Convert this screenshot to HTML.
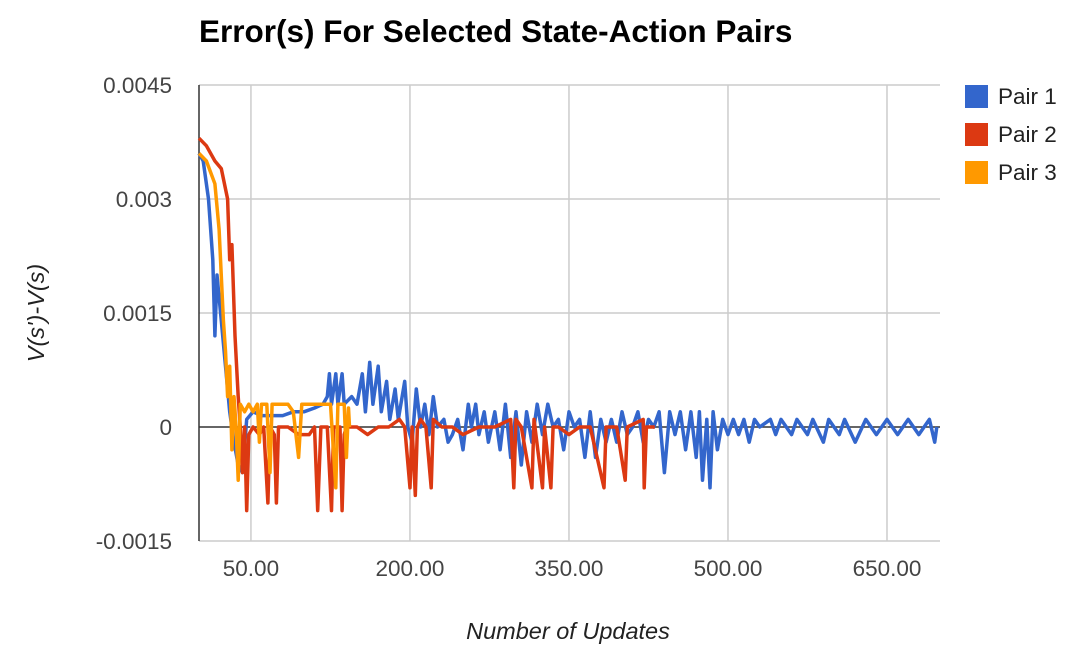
<!DOCTYPE html>
<html><head><meta charset="utf-8"><style>
body{margin:0;background:#fff;font-family:"Liberation Sans",sans-serif;}
svg{display:block}
</style></head><body>
<svg id="chart" width="1086" height="656" xmlns="http://www.w3.org/2000/svg">
<text x="199" y="42" font-size="31.5" font-weight="bold" fill="#000">Error(s) For Selected State-Action Pairs</text>
<text x="568" y="639" font-size="23.5" font-style="italic" fill="#222" text-anchor="middle">Number of Updates</text>
<text transform="translate(44,313) rotate(-90)" font-size="23.5" font-style="italic" fill="#222" text-anchor="middle">V(s')-V(s)</text>
<g id="grid"></g><g id="series"></g><g id="legend"></g>
</svg>
<script>
const yTicks=[45,30,15,0,-15];
const yTickLabels=["0.0045","0.003","0.0015","0","-0.0015"];
const xTicks=[50,200,350,500,650];
const xTickLabels=["50.00","200.00","350.00","500.00","650.00"];
const seriesNames=["Pair 1","Pair 2","Pair 3"];
const seriesColors=["#3366cc","#dc3912","#ff9900"];
// values in units of 1e-4
const blueX=[1,5,10,14,16,18,22,26,30,34,38,42,46,52,60,70,80,90,100,110,118,122,124,126,130,132,136,138,145,150,155,158,162,165,170,173,178,181,186,189,195,198,202,206,210,214,218,222,226,232,236,240,245,250,255,258,262,265,270,274,280,285,290,295,300,305,310,315,320,325,330,335,340,345,350,355,360,365,370,375,380,385,390,395,400,405,410,415,420,425,430,435,440,445,450,455,460,465,470,473,476,480,483,486,490,495,500,505,510,515,520,525,530,540,545,550,560,565,575,580,590,595,605,610,620,630,640,650,660,670,680,690,695,697];
const blueY=[36,35,30,22,12,20,14,8,2,-2,-5,-6,1,2,1.5,1.5,1.5,2,2,2.5,3,4,7,3,7,3,7,3,4,3,7,2,8.5,3,8,2,6,1,5,1,6,0,-2,5,0,3,-1,4,0,1,-2,-1,1,-3,3,0,3,-1,2,-2,2,-3,3,-4,2,-5,2,-2,3,-1,3,0,1,-3,2,0,1,-4,2,-4,1,-2,1,-2,2,-1,0,2,-2,1,0,2,-6,2,-1,2,-3,2,-4,2,-7,1,-8,2,-3,1,-1,1,-1,1,-2,1,0,1,-1,1,-1,1,-1,1,-2,1,-1,1,-2,1,-1,1,-1,1,-1,1,-2,0];
const redX=[1,8,16,22,28,30,32,35,38,40,42,44,46,48,52,58,62,66,68,72,74,76,85,95,105,110,113,116,122,126,128,134,136,138,140,150,160,170,180,190,195,200,202,205,207,210,215,220,222,230,240,250,265,280,295,298,300,305,315,317,325,327,333,335,340,350,360,370,383,385,395,403,405,420,421,423,431];
const redY=[38,37,35,34,30,22,24,12,4,0,-6,0,-11,-1,0,-1,0,-10,0,-1,-10,0,0,-1,-1,0,-11,0,0,-11,0,0,-11,-1,0,0,-1,0,0,1,0,-8,0,-9,0,1,0,-8,1,0,0,-1,0,0,1,-8,1,0,-8,1,-8,0,-8,0,0,-1,0,0,-8,0,0,-7,0,1,-8,0,0];
const orangeX=[1,8,16,20,24,26,28,30,32,34,36,38,40,44,48,52,56,58,60,65,68,70,80,85,90,95,98,110,120,125,130,132,138,140,142,143];
const orangeY=[36,35,32,26,14,10,4,8,-3,4,0,-7,3,2,3,2,3,-2,3,3,-6,3,3,3,2,-4,3,3,3,3,-8,3,3,-4,2.5,0];
const L=199,R=940,T=85,B=541,X0=1,X1=700,Y0=-15,Y1=45;
const sx=v=>L+(v-X0)/(X1-X0)*(R-L);
const sy=v=>B-(v-Y0)/(Y1-Y0)*(B-T);
const NS="http://www.w3.org/2000/svg";
function mk(tag,attrs,parent,txt){const e=document.createElementNS(NS,tag);for(const k in attrs)e.setAttribute(k,attrs[k]);if(txt!==undefined)e.textContent=txt;parent.appendChild(e);return e;}
const grid=document.getElementById('grid');
yTicks.forEach((t,i)=>{
  const g=mk('line',{x1:L,x2:R,y1:sy(t),y2:sy(t),stroke:t===0?'#333':'#ccc','stroke-width':1.5},grid);
  
  
  const lb=mk('text',{x:172,y:sy(t)+8,'font-size':22.5,fill:'#444','text-anchor':'end'},grid,yTickLabels[i]);
  
  
});
xTicks.forEach((t,i)=>{
  const g=mk('line',{x1:sx(t),x2:sx(t),y1:T,y2:B,stroke:'#ccc','stroke-width':1.5},grid);
  
  
  const lb=mk('text',{x:sx(t),y:576,'font-size':22.5,fill:'#444','text-anchor':'middle'},grid,xTickLabels[i]);
  
  
});
const ax=mk('line',{x1:L,x2:L,y1:T,y2:B,stroke:'#333','stroke-width':1.5},grid);


const ser=document.getElementById('series');
const all=[[blueX,blueY],[redX,redY],[orangeX,orangeY]];
all.forEach((s,i)=>{
  const d=s[0].map((x,j)=>(j?'L':'M')+sx(x).toFixed(1)+','+sy(s[1][j]).toFixed(1)).join(' ');
  const p=mk('path',{d:d,fill:'none',stroke:seriesColors[i],'stroke-width':3.5,'stroke-linejoin':'round'},ser);
  
  
});
const leg=document.getElementById('legend');
seriesNames.forEach((n,i)=>{
  const y=85+i*38;
  const r=mk('rect',{x:965,y:y,width:23,height:23,fill:seriesColors[i]},leg);
  
  
  const t=mk('text',{x:998,y:y+19,'font-size':22.5,fill:'#222'},leg,n);
  
  
});
</script>
</body></html>
